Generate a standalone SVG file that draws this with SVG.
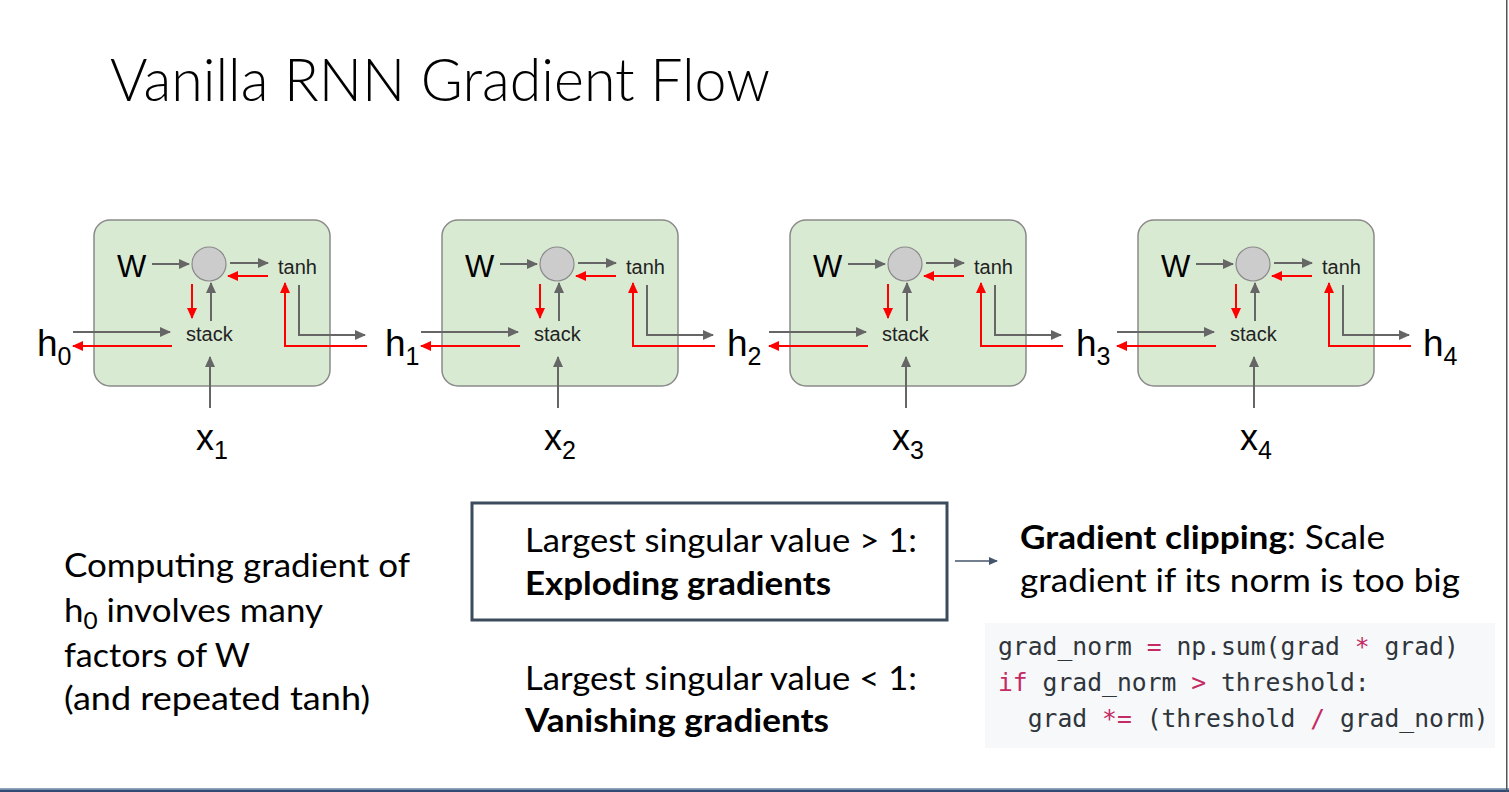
<svg xmlns="http://www.w3.org/2000/svg" width="1509" height="792" viewBox="0 0 1509 792">
<defs>
<style>
.box{fill:#d9ead3;stroke:#8a8a8a;stroke-width:1.5}
.circ{fill:#cccccc;stroke:#8a8a8a;stroke-width:1.2}
.g{stroke:#666666;stroke-width:2;fill:none}
.r{stroke:#ff0000;stroke-width:2;fill:none}
.ga{marker-end:url(#ag)}
.ra{marker-end:url(#ar)}
.lbl{font-family:"Liberation Sans",Arial,sans-serif;fill:#000}
.small{font-size:20px;fill:#222}
.big{font-size:37px}
.sub{font-size:25px}
.body{font-family:Lato,"Open Sans",sans-serif;font-size:33px;fill:#000}
.b{font-weight:bold}
.code{font-family:"DejaVu Sans Mono","Liberation Mono",monospace;font-size:24.7px;fill:#2f353b}
.kw{fill:#c42b63}
</style>
<marker id="ag" markerUnits="userSpaceOnUse" markerWidth="11" markerHeight="10" refX="10" refY="5" orient="auto"><path d="M0,0 L11,5 L0,10 z" fill="#666666"/></marker>
<marker id="ar" markerUnits="userSpaceOnUse" markerWidth="11" markerHeight="10" refX="10" refY="5" orient="auto"><path d="M0,0 L11,5 L0,10 z" fill="#ff0000"/></marker>
<marker id="ad" markerUnits="userSpaceOnUse" markerWidth="9" markerHeight="8" refX="8" refY="4" orient="auto"><path d="M0,0 L9,4 L0,8 z" fill="#44546a"/></marker>
<g id="cellTpl">
<rect class="box" x="94" y="220" width="236" height="166" rx="16"/>
<circle class="circ" cx="209" cy="264" r="17"/>
<text class="lbl" x="117" y="277" font-size="31">W</text>
<text class="lbl small" x="278" y="274">tanh</text>
<text class="lbl small" x="186" y="341">stack</text>
</g>
</defs>
<rect x="0" y="0" width="1509" height="792" fill="#ffffff"/>
<text id="title" x="110" y="101" font-family="Lato,'Open Sans',sans-serif" font-weight="300" font-size="60" textLength="660" lengthAdjust="spacingAndGlyphs" fill="#000">Vanilla RNN Gradient Flow</text>

<g id="cell1"><use href="#cellTpl"/></g>
<g id="cell2" transform="translate(348,0)"><use href="#cellTpl"/></g>
<g id="cell3" transform="translate(696,0)"><use href="#cellTpl"/></g>
<g id="cell4" transform="translate(1044,0)"><use href="#cellTpl"/></g>

<g id="connectors">
<g id="conn-cell-tpl-0">
<line class="g ga" x1="152" y1="264" x2="189" y2="264"/>
<line class="g ga" x1="230" y1="263" x2="268" y2="263"/>
<line class="r ra" x1="268" y1="276" x2="228" y2="276"/>
<line class="r ra" x1="192" y1="284" x2="192" y2="318"/>
<line class="g ga" x1="211" y1="321" x2="211" y2="283"/>
<line class="g ga" x1="73" y1="332" x2="170" y2="332"/>
<line class="r ra" x1="172" y1="346" x2="73" y2="346"/>
<line class="g ga" x1="210" y1="408" x2="210" y2="357"/>
<polyline class="g ga" points="299,285 299,335 365,335"/>
<polyline class="r ra" points="367,346 285,346 285,283"/>
</g>
<use href="#conn-cell-tpl-0" transform="translate(348,0)"/>
<use href="#conn-cell-tpl-0" transform="translate(696,0)"/>
<use href="#conn-cell-tpl-0" transform="translate(1044,0)"/>
<line x1="955" y1="561" x2="997" y2="561" stroke="#44546a" stroke-width="1.5" marker-end="url(#ad)"/>
</g>

<g id="hlabels" class="lbl">
<text x="37" y="356" class="big">h<tspan class="sub" dy="9">0</tspan></text>
<text x="385" y="356" class="big">h<tspan class="sub" dy="9">1</tspan></text>
<text x="727" y="356" class="big">h<tspan class="sub" dy="9">2</tspan></text>
<text x="1076" y="356" class="big">h<tspan class="sub" dy="9">3</tspan></text>
<text x="1423" y="356" class="big">h<tspan class="sub" dy="9">4</tspan></text>
</g>
<g id="xlabels" class="lbl">
<text x="196" y="450" font-size="36">x<tspan class="sub" dy="9">1</tspan></text>
<text x="544" y="450" font-size="36">x<tspan class="sub" dy="9">2</tspan></text>
<text x="892" y="450" font-size="36">x<tspan class="sub" dy="9">3</tspan></text>
<text x="1240" y="450" font-size="36">x<tspan class="sub" dy="9">4</tspan></text>
</g>

<g id="left-text" class="body">
<text x="64" y="577" textLength="346" lengthAdjust="spacingAndGlyphs">Computing gradient of</text>
<text x="64" y="622" textLength="259" lengthAdjust="spacingAndGlyphs">h<tspan font-size="23" dy="7">0</tspan><tspan dy="-7"> involves many</tspan></text>
<text x="64" y="667" textLength="186" lengthAdjust="spacingAndGlyphs">factors of W</text>
<text x="64" y="710" textLength="306" lengthAdjust="spacingAndGlyphs">(and repeated tanh)</text>
</g>

<g id="exploding-box">
<rect x="472" y="503" width="475" height="117" fill="none" stroke="#3b4a5c" stroke-width="3"/>
<text class="body" x="525" y="552" textLength="392" lengthAdjust="spacingAndGlyphs">Largest singular value &gt; 1:</text>
<text class="body b" x="525" y="595" textLength="306" lengthAdjust="spacingAndGlyphs">Exploding gradients</text>
</g>

<g id="vanishing">
<text class="body" x="525" y="690" textLength="392" lengthAdjust="spacingAndGlyphs">Largest singular value &lt; 1:</text>
<text class="body b" x="525" y="732" textLength="304" lengthAdjust="spacingAndGlyphs">Vanishing gradients</text>
</g>

<g id="clipping">
<text class="body" x="1020" y="549" textLength="365" lengthAdjust="spacingAndGlyphs"><tspan class="b">Gradient clipping</tspan>: Scale</text>
<text class="body" x="1020" y="592" textLength="440" lengthAdjust="spacingAndGlyphs">gradient if its norm is too big</text>
</g>

<g id="code">
<rect x="985" y="623" width="510" height="125" fill="#f6f8fa"/>
<text class="code" x="998" y="655" xml:space="preserve">grad_norm <tspan class="kw">=</tspan> np.sum(grad <tspan class="kw">*</tspan> grad)</text>
<text class="code" x="998" y="691" xml:space="preserve"><tspan class="kw">if</tspan> grad_norm <tspan class="kw">&gt;</tspan> threshold:</text>
<text class="code" x="998" y="727" xml:space="preserve">  grad <tspan class="kw">*=</tspan> (threshold <tspan class="kw">/</tspan> grad_norm)</text>
</g>

<g id="frame">
<rect x="0" y="788" width="1509" height="1.5" fill="#8ea2c2"/>
<rect x="0" y="789.5" width="1509" height="2.5" fill="#2f4a73"/>
<rect x="1506" y="0" width="1.5" height="792" fill="#555555"/>
</g>
</svg>
